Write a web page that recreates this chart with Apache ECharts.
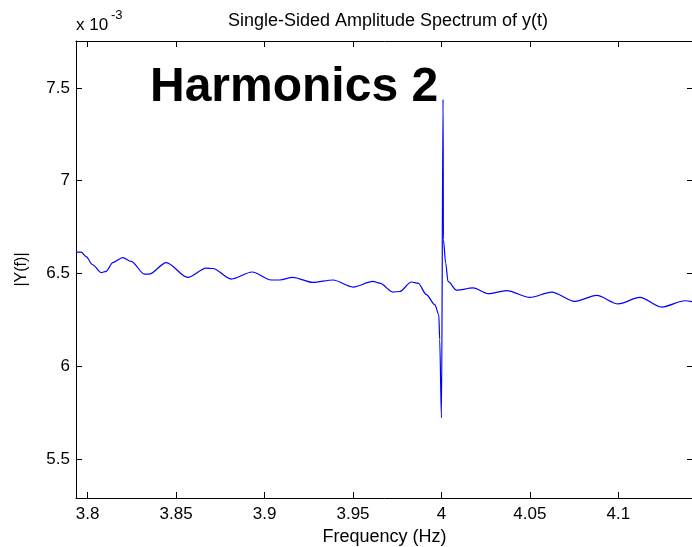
<!DOCTYPE html>
<html>
<head>
<meta charset="utf-8">
<script src="https://cdn.jsdelivr.net/npm/echarts@6/dist/echarts.min.js"></script>
<style>
html, body { margin: 0; padding: 0; background: #fff; }
#chart { width: 692px; height: 547px; }
</style>
</head>
<body>
<div id="chart"></div>
<script>
// 频率 (Hz) 和 幅值 (单位 1e-3)
var freqHz = [
    3.7934, 3.7963, 3.7991, 3.8028, 3.8076, 3.8104, 3.8142, 3.8198, 3.8246,
    3.8321, 3.8349, 3.8444, 3.8566, 3.8670, 3.8707, 3.8812, 3.8930, 3.9038,
    3.9085, 3.9160, 3.9273, 3.9387, 3.9500, 3.9613, 3.9651, 3.9726, 3.9764,
    3.9830, 3.9868, 3.9915, 3.9962, 3.9985, 3.9990, 4.0000, 4.0009, 4.0011,
    4.0024, 4.0037, 4.0085, 4.0179, 4.0264, 4.0368, 4.0500, 4.0623, 4.0754,
    4.0877, 4.0999, 4.1122, 4.1245, 4.1377, 4.1422
];
var ampY = [
    6.615, 6.615, 6.591, 6.547, 6.505, 6.511, 6.559, 6.586, 6.565,
    6.497, 6.497, 6.559, 6.479, 6.529, 6.527, 6.470, 6.508, 6.465,
    6.465, 6.479, 6.452, 6.465, 6.427, 6.457, 6.448, 6.400, 6.403,
    6.454, 6.448, 6.386, 6.332, 6.278, 6.144, 5.722, 7.438, 6.681,
    6.556, 6.457, 6.410, 6.422, 6.391, 6.408, 6.371, 6.400, 6.350,
    6.382, 6.336, 6.371, 6.319, 6.353, 6.348
];
var xTicks = [3.8, 3.85, 3.9, 3.95, 4, 4.05, 4.1];
var yTicks = [5.5, 6, 6.5, 7, 7.5];

var FONT = "'Liberation Sans', Arial, sans-serif";

var points = [];
for (var i = 0; i < freqHz.length; i ++)
    points.push([freqHz[i], ampY[i]]);

function fmt(v){
    return String(parseFloat(v.toFixed(2)));
}

function mkXAxis(pos){
    var show = pos == 'bottom';
    return {
        type: 'value', position: pos, min: 3.7934, max: 4.1422,
        splitLine: {show: false},
        axisLine: {show: true, onZero: false, lineStyle: {color: '#000', width: 1}},
        axisTick: {show: true, inside: true, length: 6, customValues: xTicks, lineStyle: {color: '#000'}},
        axisLabel: {show: show, customValues: xTicks, formatter: fmt, color: '#000',
                    fontFamily: FONT, fontSize: 17, margin: 8},
        name: show ? 'Frequency (Hz)' : '',
        nameLocation: 'middle', nameGap: 30,
        nameTextStyle: {color: '#000', fontFamily: FONT, fontSize: 18}
    };
}

function mkYAxis(pos){
    var show = pos == 'left';
    return {
        type: 'value', position: pos, min: 5.29, max: 7.753,
        splitLine: {show: false},
        // 右边框在图片外面，只留刻度
        axisLine: {show: show, onZero: false, lineStyle: {color: '#000', width: 1}},
        axisTick: {show: true, inside: true, length: 6, customValues: yTicks, lineStyle: {color: '#000'}},
        axisLabel: {show: show, customValues: yTicks, formatter: fmt, color: '#000',
                    fontFamily: FONT, fontSize: 17, margin: 6},
        name: show ? '|Y(f)|' : '',
        nameLocation: 'middle', nameGap: 46, nameRotate: 90,
        nameTextStyle: {color: '#000', fontFamily: FONT, fontSize: 16}
    };
}

var chart = echarts.init(document.getElementById('chart'), null, {renderer: 'canvas'});
chart.setOption({
    animation: false,
    backgroundColor: '#fff',
    title: {
        text: 'Single-Sided Amplitude Spectrum of y(t)',
        left: 383, top: 7, textAlign: 'center',
        textStyle: {color: '#000', fontFamily: FONT, fontSize: 18, fontWeight: 'normal'}
    },
    grid: {left: 76, top: 41, right: -1, bottom: 49, containLabel: false, outerBoundsMode: 'none'},
    xAxis: [mkXAxis('bottom'), mkXAxis('top')],
    yAxis: [mkYAxis('left'), mkYAxis('right')],
    graphic: [
        {type: 'text', left: 76, top: 17,
         style: {text: 'x 10', fill: '#000', font: '17px ' + FONT}},
        {type: 'text', left: 111, top: 9,
         style: {text: '-3', fill: '#000', font: '13px ' + FONT}},
        {type: 'text', left: 150, top: 64,
         style: {text: 'Harmonics 2', fill: '#000', font: 'bold 48px ' + FONT}}
    ],
    series: [{
        type: 'line',
        data: points,
        showSymbol: false,
        smooth: 0.3,
        smoothMonotone: 'x',
        clip: true,
        lineStyle: {color: '#0000ff', width: 1.2}
    }]
});
</script>
</body>
</html>
